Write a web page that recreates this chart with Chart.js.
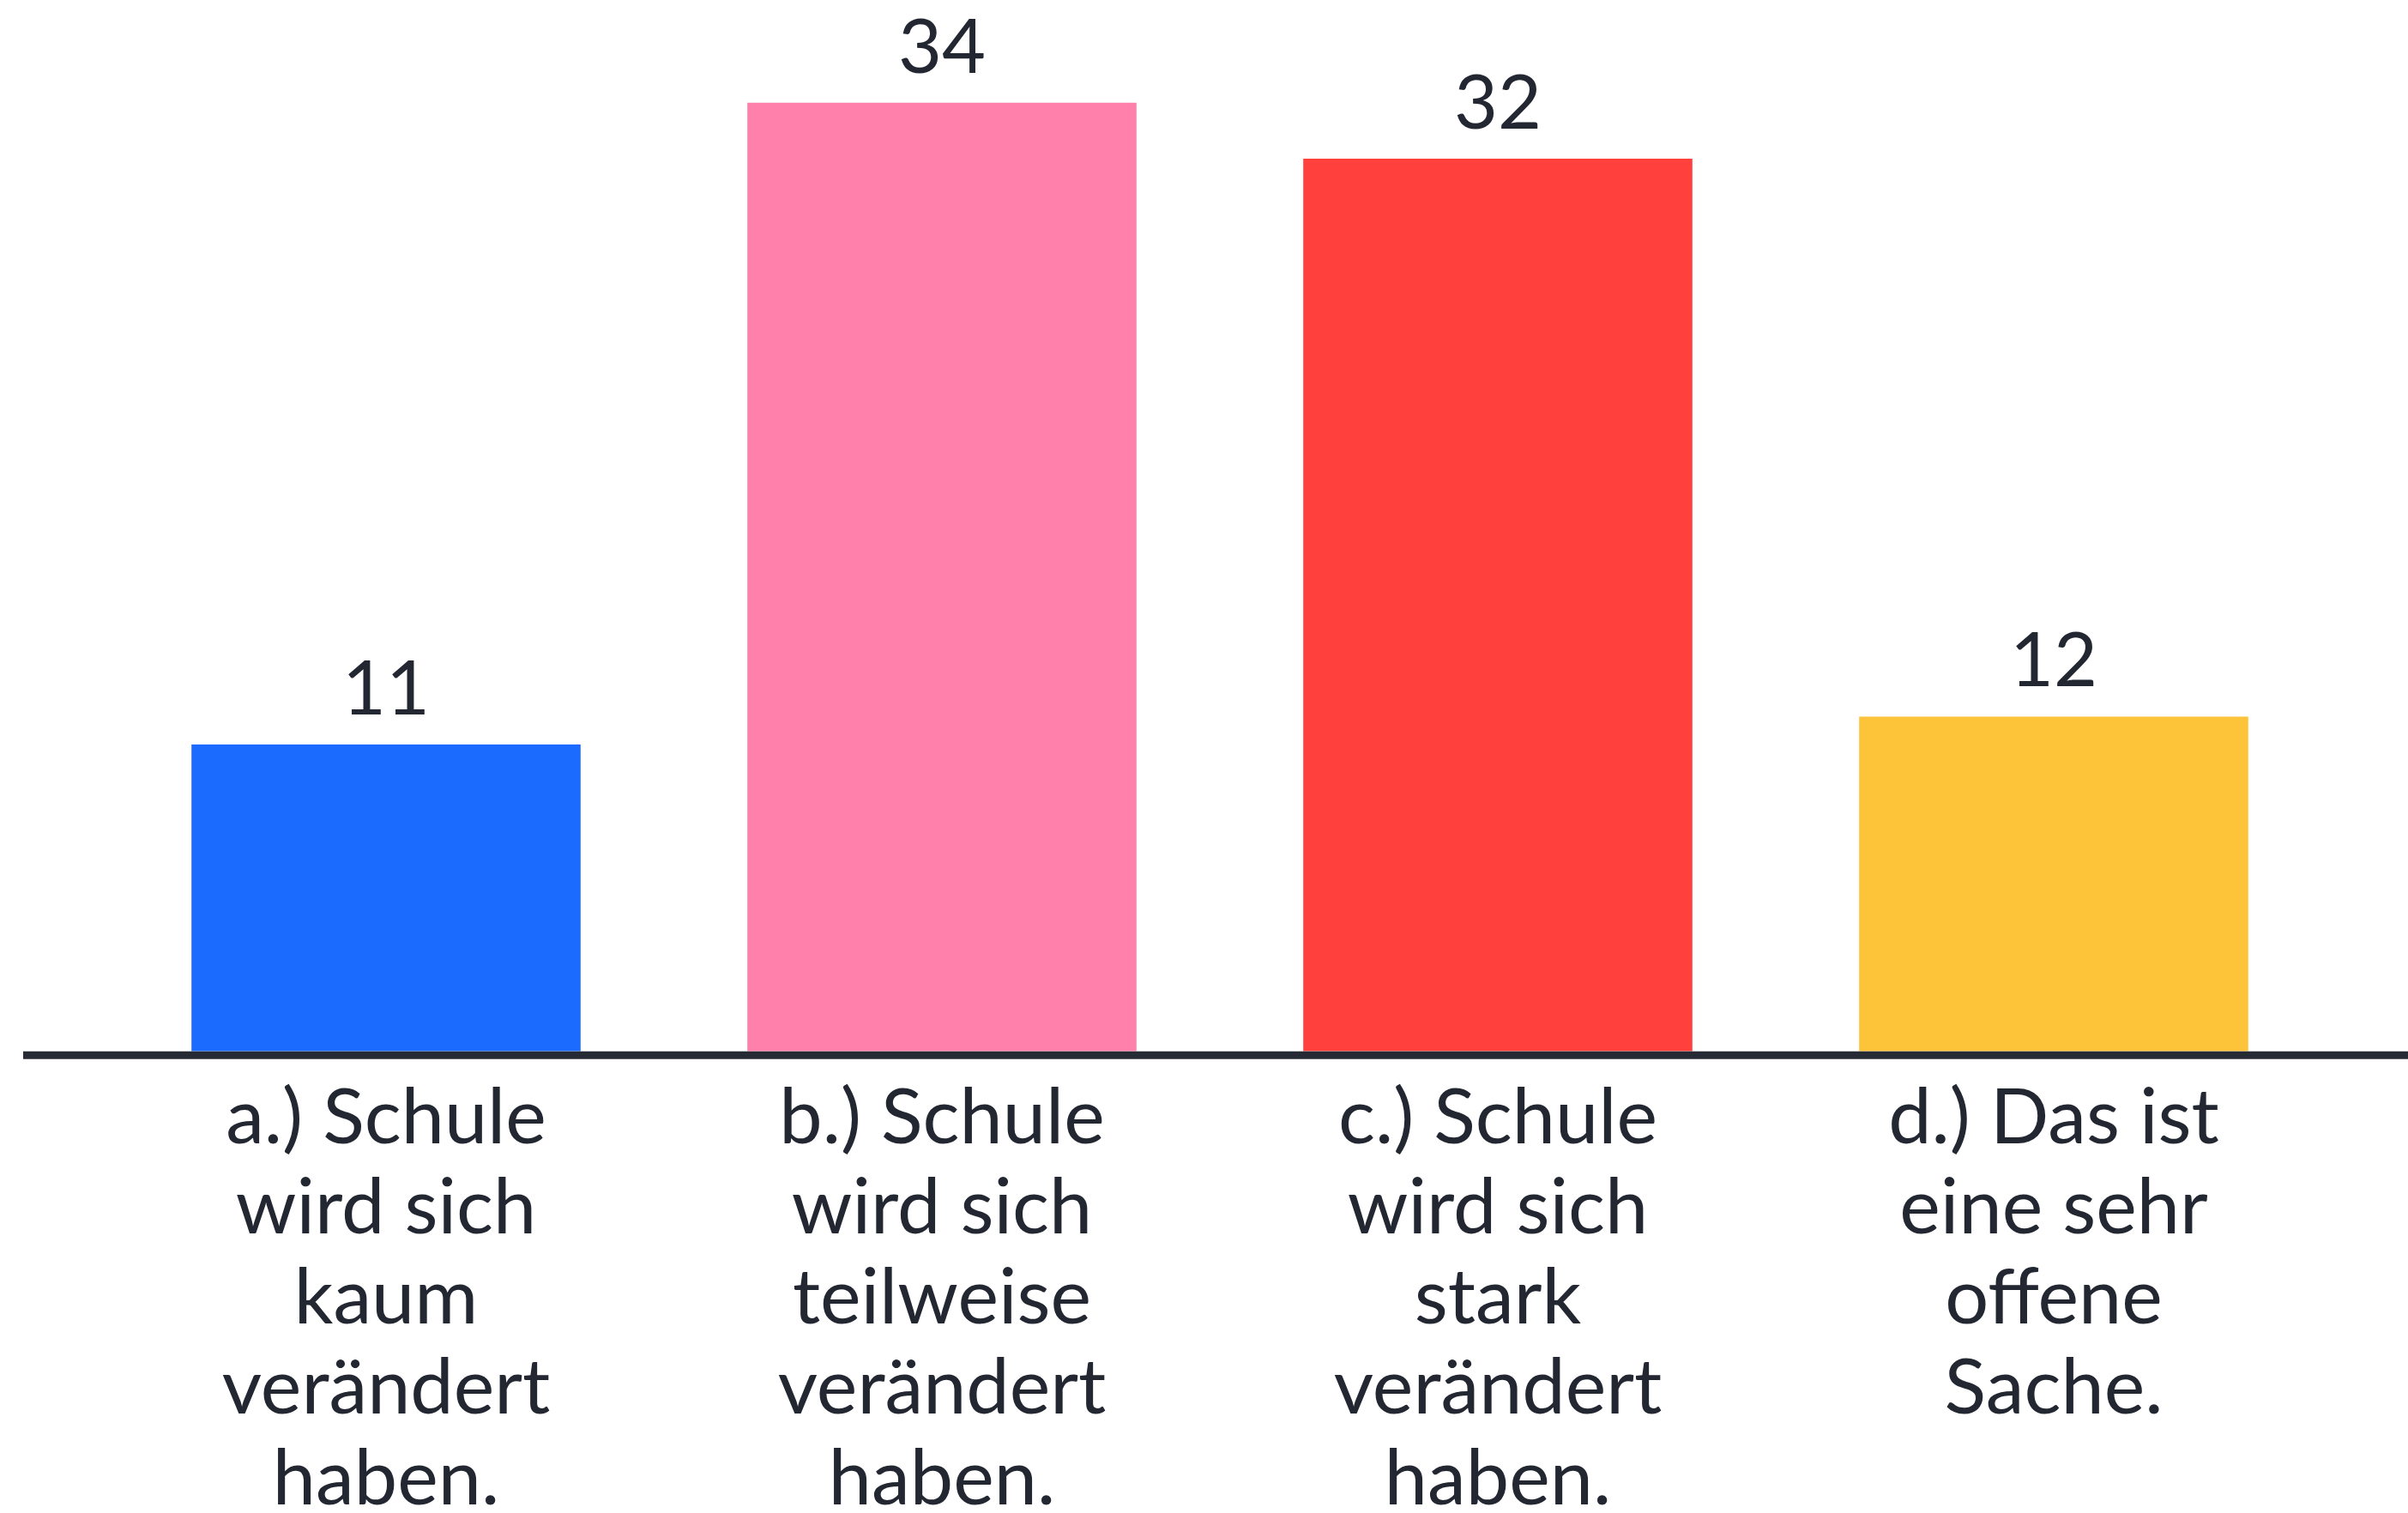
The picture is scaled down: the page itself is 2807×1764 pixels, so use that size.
<!DOCTYPE html>
<html>
<head>
<meta charset="utf-8">
<script src="https://cdn.jsdelivr.net/npm/chart.js@4/dist/chart.umd.min.js"></script>
<style>
  html, body { margin: 0; padding: 0; background: #fff; }
  #wrap { width: 2807px; height: 1764px; position: relative; }
</style>
</head>
<body>
<div id="wrap"><canvas id="answers"></canvas></div>
<script>
// answer options (one line per array entry)
const categories = [
  ['a.) Schule', 'wird sich', 'kaum', 'verändert', 'haben.'],
  ['b.) Schule', 'wird sich', 'teilweise', 'verändert', 'haben.'],
  ['c.) Schule', 'wird sich', 'stark', 'verändert', 'haben.'],
  ['d.) Das ist', 'eine sehr', 'offene', 'Sache.']
];
const votes = [11, 34, 32, 12];
const barColors = ['#1c6bff', '#ff80ab', '#ff403d', '#fdc43a'];

const textColor = '#232732';
const fontFamily = 'Lato, "Open Sans", sans-serif';

// value above each bar
const valueLabels = {
  id: 'valueLabels',
  afterDatasetsDraw(chart) {
    const ctx = chart.ctx;
    const meta = chart.getDatasetMeta(0);
    ctx.save();
    ctx.fillStyle = textColor;
    ctx.font = '88px ' + fontFamily;
    ctx.textAlign = 'center';
    ctx.textBaseline = 'alphabetic';
    meta.data.forEach((bar, i) => {
      ctx.fillText(votes[i], bar.x, bar.y - 35);
    });
    ctx.restore();
  }
};

// baseline runs wider than the plot area
const baseLine = {
  id: 'baseLine',
  afterDatasetsDraw(chart) {
    const ctx = chart.ctx;
    const y = chart.scales.y.getPixelForValue(0) + 4.5;
    ctx.save();
    ctx.strokeStyle = '#262a34';
    ctx.lineWidth = 9;
    ctx.beginPath();
    ctx.moveTo(27, y);
    ctx.lineTo(chart.width, y);
    ctx.stroke();
    ctx.restore();
  }
};

new Chart(document.getElementById('answers').getContext('2d'), {
  type: 'bar',
  data: {
    labels: categories,
    datasets: [{
      data: votes,
      backgroundColor: barColors,
      borderWidth: 0,
      categoryPercentage: 1,
      barPercentage: 0.7
    }]
  },
  options: {
    responsive: true,
    maintainAspectRatio: false,
    animation: false,
    layout: { padding: { left: 126, right: 89, top: 6, bottom: -39 } },
    plugins: {
      legend: { display: false },
      tooltip: { enabled: false }
    },
    scales: {
      x: {
        grid: { display: false, drawTicks: false },
        border: { display: false },
        ticks: {
          color: textColor,
          padding: 26,
          maxRotation: 0,
          autoSkip: false,
          font: { family: fontFamily, size: 90, lineHeight: 1.167 }
        }
      },
      y: {
        display: false,
        min: 0,
        max: 37.5
      }
    }
  },
  plugins: [valueLabels, baseLine]
});
</script>
</body>
</html>
